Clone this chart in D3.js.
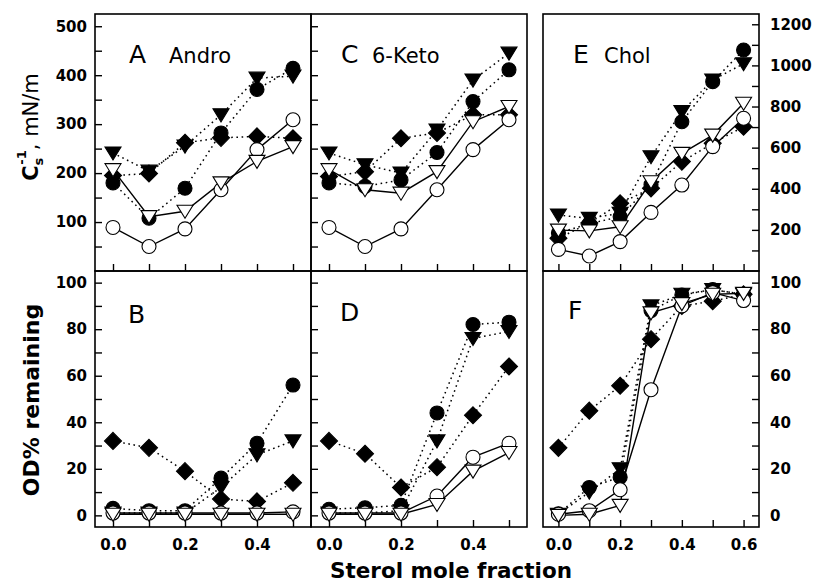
<!DOCTYPE html>
<html>
<head>
<meta charset="utf-8">
<script src="https://cdn.jsdelivr.net/npm/d3@7"></script>
<style>
	body { margin: 0; background: #fff; }
	svg text { font-family: "DejaVu Sans", sans-serif; fill: #000; }
</style>
</head>
<body>
<div id="chartDiv"></div>
<script>
; (function () {

	// sterol mole fraction
	var fracAD = [0, 0.1, 0.2, 0.3, 0.4, 0.5];
	var fracEF = [0, 0.1, 0.2, 0.3, 0.4, 0.5, 0.6];

	// rows: filled circle, filled triangle, filled diamond (dotted), open circle, open triangle (solid)
	var andro_cs = [
		[180, 108, 169, 282, 371, 414],
		[241, 204, 255, 319, 394, 398],
		[195, 199, 262, 272, 275, 271],
		[89, 50, 86, 166, 248, 309],
		[207, 111, 122, 180, 224, 254]
	];
	var keto_cs = [
		[180, 173, 186, 242, 346, 411],
		[241, 217, 200, 288, 390, 445],
		[193, 203, 271, 282, 319, 319],
		[89, 50, 86, 166, 248, 309],
		[207, 166, 159, 203, 305, 336]
	];
	var chol_cs = [
		[185, 230, 264, 420, 726, 921, 1075],
		[272, 256, 281, 556, 775, 929, 1008],
		[159, 233, 329, 402, 532, 621, 702],
		[105, 73, 143, 285, 418, 605, 743],
		[199, 195, 215, 434, 572, 661, 816]
	];
	var andro_od = [
		[3, 2, 2, 16, 31, 56],
		[1, 1, 1, 12, 26, 32],
		[32, 29, 19, 7, 6, 14],
		[1, 1, 1, 1, 1, 1.5],
		[0.5, 0.5, 0.5, 0.5, 0.5, 0.5]
	];
	var keto_od = [
		[2.6, 3.3, 4.3, 44, 82, 83],
		[1, 1, 2, 32, 76, 79],
		[32, 26.5, 12, 20.7, 43, 64],
		[1, 1, 1, 8.3, 25, 31],
		[0.5, 0.5, 0.5, 4.7, 19, 27]
	];
	var chol_od = [
		[0.7, 12, 16.4, 88, 94.7, 97, 95],
		[0.5, 10, 20, 90, 95, 97, 95],
		[29, 45, 55.7, 75.7, 90, 92, 95],
		[0.5, 2, 11, 54, 90, 95.7, 92.3],
		[0, 0.5, 4.3, 87, 91, 95, 95.4]
	];

	// axis labels
	var csLabelsLeft = [100, 200, 300, 400, 500];
	var csLabelsRight = [200, 400, 600, 800, 1000, 1200];
	var odLabels = [0, 20, 40, 60, 80, 100];
	var fracLabels = [0, 0.2, 0.4, 0.6];

	var width = 814;
	var height = 583;
	var pw = 216;
	var topY = 14, midY = 271, botY = 527;

	var panels = [
		{ letter: "A", name: "Andro", data: andro_cs, frac: fracAD, left: 95, top: topY, bottom: midY, xDom: [-0.05, 0.55], yDom: [0, 525],
			yTicks: d3.range(50, 501, 50), yLabels: csLabelsLeft, ySide: "left", showY: true, xText: false, lx: 34, ly: 49, nx: 74 },
		{ letter: "C", name: "6-Keto", data: keto_cs, frac: fracAD, left: 311, top: topY, bottom: midY, xDom: [-0.05, 0.55], yDom: [0, 525],
			yTicks: d3.range(50, 501, 50), yLabels: [], ySide: "left", showY: true, xText: false, lx: 30, ly: 49, nx: 61 },
		{ letter: "E", name: "Chol", data: chol_cs, frac: fracEF, left: 543, top: topY, bottom: midY, xDom: [-0.05, 0.65], yDom: [0, 1250],
			yTicks: d3.range(100, 1201, 100), yLabels: csLabelsRight, ySide: "right", showY: true, xText: false, lx: 30, ly: 49, nx: 61 },
		{ letter: "B", name: "", data: andro_od, frac: fracAD, left: 95, top: midY, bottom: botY, xDom: [-0.05, 0.55], yDom: [-5, 105],
			yTicks: d3.range(0, 101, 10), yLabels: odLabels, ySide: "left", showY: true, xText: true, lx: 33, ly: 52 },
		{ letter: "D", name: "", data: keto_od, frac: fracAD, left: 311, top: midY, bottom: botY, xDom: [-0.05, 0.55], yDom: [-5, 105],
			yTicks: d3.range(0, 101, 10), yLabels: [], ySide: "left", showY: true, xText: true, lx: 29, ly: 50 },
		{ letter: "F", name: "", data: chol_od, frac: fracEF, left: 543, top: midY, bottom: botY, xDom: [-0.05, 0.65], yDom: [-5, 105],
			yTicks: d3.range(0, 101, 10), yLabels: odLabels, ySide: "right", showY: true, xText: true, lx: 25, ly: 48 }
	];

	// drawing order and styles of the five series
	var drawOrder = [2, 0, 1, 3, 4];
	var seriesShape = ["circle", "triangle", "diamond", "circle", "triangle"];
	var seriesFilled = [true, true, true, false, false];

	var chart = d3.select("#chartDiv").append("svg")
		.attr("width", width)
		.attr("height", height);

	panels.forEach(drawPanel);
	drawTitles();

	function drawPanel(p) {
		var g = chart.append("g");

		var xScale = d3.scaleLinear().domain(p.xDom).range([p.left, p.left + pw]);
		var yScale = d3.scaleLinear().domain(p.yDom).range([p.bottom, p.top]);

		// x ticks (inside, every 0.1)
		var xTicks = p.frac;
		var xAxis = d3.axisBottom(xScale)
			.tickValues(xTicks)
			.tickSizeInner(-7)
			.tickSizeOuter(0)
			.tickPadding(12)
			.tickFormat(function (d) {
				if (!p.xText) return "";
				return fracLabels.some(function (v) { return Math.abs(v - d) < 1e-6; }) ? d3.format(".1f")(d) : "";
			});

		var xg = g.append("g")
			.attr("transform", "translate(0," + p.bottom + ")")
			.call(xAxis);
		styleAxis(xg);
		xg.selectAll("text").attr("dy", "0.71em");

		// y ticks (inside)
		var yAxis = (p.ySide == "left" ? d3.axisLeft(yScale) : d3.axisRight(yScale))
			.tickValues(p.yTicks)
			.tickSizeInner(-7)
			.tickSizeOuter(0)
			.tickPadding(p.ySide == "left" ? 8 : 11)
			.tickFormat(function (d) { return p.yLabels.indexOf(d) >= 0 ? d : ""; });

		var yg = g.append("g")
			.attr("transform", "translate(" + (p.ySide == "left" ? p.left : p.left + pw) + ",0)")
			.call(yAxis);
		styleAxis(yg);

		// frame
		g.append("rect")
			.attr("x", p.left)
			.attr("y", p.top)
			.attr("width", pw)
			.attr("height", p.bottom - p.top)
			.attr("fill", "none")
			.attr("stroke", "#000")
			.attr("stroke-width", 1.6);

		// lines
		var line = d3.line()
			.x(function (d) { return xScale(d[0]); })
			.y(function (d) { return yScale(d[1]); });

		drawOrder.forEach(function (s) {
			var pts = p.frac.map(function (f, i) { return [f, p.data[s][i]]; });
			g.append("path")
				.datum(pts)
				.attr("d", line)
				.attr("fill", "none")
				.attr("stroke", "#000")
				.attr("stroke-width", seriesFilled[s] ? 1.5 : 1.4)
				.attr("stroke-dasharray", seriesFilled[s] ? "1.6,3.6" : null);
		});

		// markers
		drawOrder.forEach(function (s) {
			var pts = p.frac.map(function (f, i) { return [f, p.data[s][i]]; });
			var m = g.append("g").selectAll(".mk").data(pts).enter();
			var fill = seriesFilled[s] ? "#000" : "#fff";
			if (seriesShape[s] == "circle") {
				m.append("circle")
					.attr("cx", function (d) { return xScale(d[0]); })
					.attr("cy", function (d) { return yScale(d[1]); })
					.attr("r", 7)
					.attr("fill", fill)
					.attr("stroke", "#000")
					.attr("stroke-width", 1.1);
			} else {
				var shape = seriesShape[s] == "triangle" ? "M-8,-6L8,-6L0,7Z" : "M0,-8.5L8.5,0L0,8.5L-8.5,0Z";
				m.append("path")
					.attr("d", shape)
					.attr("transform", function (d) { return "translate(" + xScale(d[0]) + "," + yScale(d[1]) + ")"; })
					.attr("fill", fill)
					.attr("stroke", "#000")
					.attr("stroke-width", 1.1)
					.attr("stroke-linejoin", "miter");
			}
		});

		// panel letter and sterol name
		g.append("text")
			.attr("x", p.left + p.lx)
			.attr("y", p.top + p.ly)
			.style("font-size", "25px")
			.text(p.letter);

		if (p.name) {
			g.append("text")
				.attr("x", p.left + p.nx)
				.attr("y", p.top + p.ly)
				.style("font-size", "21px")
				.text(p.name);
		}
	}

	function styleAxis(sel) {
		sel.select(".domain").remove();
		sel.selectAll(".tick line").attr("stroke", "#000").attr("stroke-width", 1.4);
		sel.selectAll("text")
			.attr("fill", "#000")
			.style("font-family", "'DejaVu Sans', sans-serif")
			.style("font-weight", "bold")
			.style("font-size", "15px");
	}

	function drawTitles() {
		chart.append("text")
			.attr("text-anchor", "middle")
			.attr("x", (95 + 759) / 2 + 24)
			.attr("y", 578)
			.style("font-size", "21.5px")
			.style("font-weight", "bold")
			.text("Sterol mole fraction");

		var t1 = chart.append("text")
			.attr("text-anchor", "middle")
			.attr("transform", "translate(38,127) rotate(-90)")
			.style("font-size", "21px");
		t1.append("tspan").style("font-weight", "bold").text("C");
		t1.append("tspan").style("font-weight", "bold").style("font-size", "13px").attr("dy", 5).text("s");
		t1.append("tspan").style("font-weight", "bold").style("font-size", "13px").attr("dx", -7).attr("dy", -17).text("-1");
		t1.append("tspan").attr("dy", 12).text(", mN/m");

		chart.append("text")
			.attr("text-anchor", "middle")
			.attr("transform", "translate(39,400) rotate(-90)")
			.style("font-size", "22px")
			.style("font-weight", "bold")
			.text("OD% remaining");
	}

})();
</script>
</body>
</html>
